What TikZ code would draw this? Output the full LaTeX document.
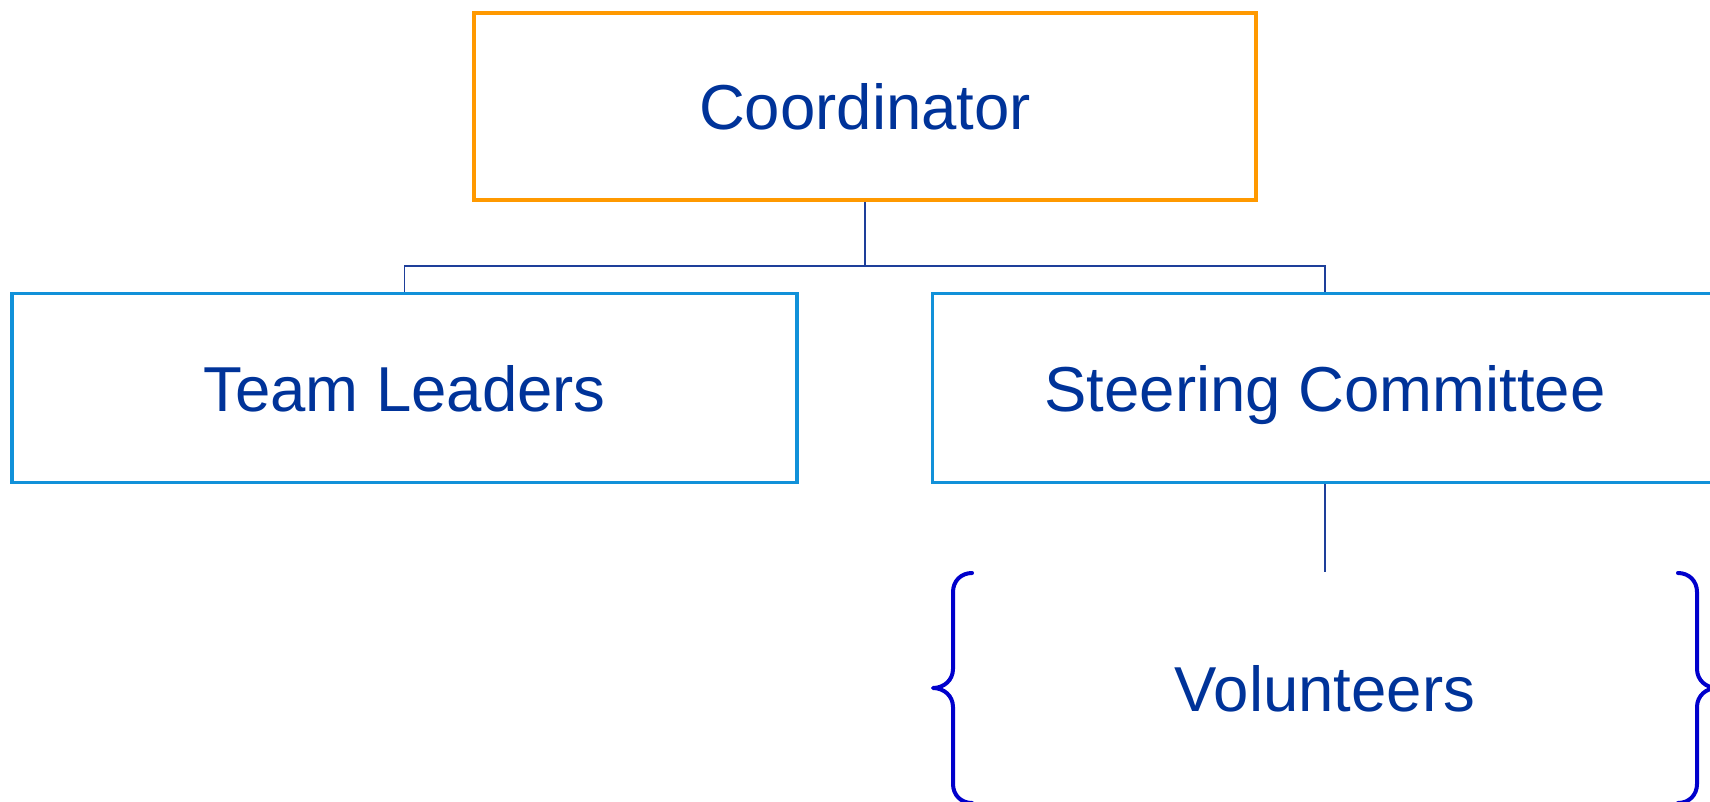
\documentclass[tikz,border=0pt]{standalone}
\usepackage{fontspec}
\setmainfont{Liberation Sans}
\definecolor{txtblue}{HTML}{003399}
\definecolor{boxblue}{HTML}{1191D9}
\definecolor{boxorange}{HTML}{FF9900}
\definecolor{linkblue}{HTML}{1E3F9A}
\definecolor{braceblue}{HTML}{0000CC}
\tikzset{
  orgbox/.style={draw, rectangle, inner sep=0pt, text=txtblue,
    text height=47pt, text depth=0pt,
    font=\fontsize{63.5}{76}\selectfont},
  topbox/.style={orgbox, draw=boxorange, line width=4pt, minimum width=782pt, minimum height=187pt},
  subbox/.style={orgbox, draw=boxblue, line width=3.3pt, minimum width=785pt, minimum height=189pt},
  link/.style={draw=linkblue, line width=1.6pt},
  bracestyle/.style={draw=braceblue, line width=4pt, line cap=round, line join=round},
  vollabel/.style={inner sep=0pt, text=txtblue, text height=47pt, text depth=0pt,
    font=\fontsize{63.5}{76}\selectfont}
}
\begin{document}
\begin{tikzpicture}[x=1pt, y=-1pt]
\useasboundingbox (0,0) rectangle (1710,802);
\node[topbox] (coord) at (865,106.5) {Coordinator};
\node[subbox] (team) at (404.5,388) {Team Leaders};
\node[subbox] (steer) at (1325,388) {Steering Committee};
\node[vollabel] (vol) at (1325,688) {Volunteers};
\coordinate (bus) at (865,266);
\coordinate (voltop) at (1325,572);
\draw[link] (coord.south) -- (bus);
\draw[link] (team.north) |- (bus) -| (steer.north);
\draw[link] (steer.south) -- (voltop);
% left brace
\draw[bracestyle] (972,573) .. controls (961,573) and (953,581) .. (953,592)
  -- (953,669) .. controls (953,680) and (944,688) .. (933,688)
  .. controls (944,688) and (953,696) .. (953,707)
  -- (953,784) .. controls (953,795) and (961,803) .. (972,803);
% right brace
\draw[bracestyle] (1678,573) .. controls (1689,573) and (1697,581) .. (1697,592)
  -- (1697,669) .. controls (1697,680) and (1706,688) .. (1717,688)
  .. controls (1706,688) and (1697,696) .. (1697,707)
  -- (1697,784) .. controls (1697,795) and (1689,803) .. (1678,803);
\end{tikzpicture}
\end{document}
